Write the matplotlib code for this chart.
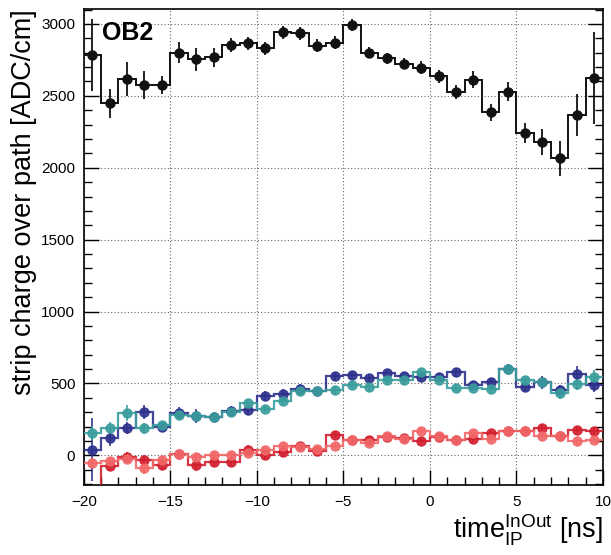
import numpy as np
import matplotlib
matplotlib.use("Agg")
import matplotlib.pyplot as plt
from matplotlib.ticker import MultipleLocator

plt.rcParams['font.family'] = ['Liberation Sans', 'DejaVu Sans']
plt.rcParams['mathtext.fontset'] = 'custom'
plt.rcParams['mathtext.rm'] = 'Liberation Sans'

edges = np.arange(-20, 11, 1)
centers = edges[:-1] + 0.5

black = [2784, 2448, 2617, 2575, 2575, 2800, 2754, 2768, 2854, 2866,
         2831, 2942, 2935, 2849, 2870, 2993, 2800, 2761, 2724, 2696,
         2636, 2525, 2612, 2385, 2529, 2239, 2177, 2066, 2365, 2622]
black_err = [252, 100, 120, 95, 60, 72, 78, 68, 50, 45,
             45, 45, 45, 45, 45, 40, 40, 40, 40, 45,
             45, 50, 60, 58, 67, 70, 90, 123, 145, 320]

blue = [38, 123, 190, 300, 200, 295, 272, 267, 306, 313,
        415, 429, 464, 445, 550, 557, 538, 569, 550, 543,
        545, 578, 492, 508, 603, 476, 508, 452, 566, 492]
blue_err = [220, 60, 40, 50, 30, 40, 50, 35, 35, 30,
            30, 30, 30, 30, 30, 25, 25, 25, 25, 25,
            25, 30, 25, 30, 30, 30, 45, 40, 55, 55]

teal = [156, 188, 295, 188, 212, 282, 272, 267, 302, 365,
        325, 378, 445, 445, 452, 492, 473, 527, 522, 580,
        527, 469, 469, 464, 603, 522, 508, 434, 497, 545]
teal_err = [50, 45, 55, 40, 30, 35, 35, 35, 30, 30,
            25, 25, 25, 25, 25, 25, 25, 25, 25, 25,
            25, 25, 25, 40, 30, 30, 30, 40, 40, 50]

red = [-400, -76, -12, -30, -68, 8, -68, -44, -44, 40,
       0, 26, 63, 28, 144, 109, 109, 128, 118, 97,
       128, 109, 116, 156, 167, 167, 190, 137, 179, 167]
red_err = [0, 35, 35, 35, 35, 30, 40, 30, 30, 30,
           25, 25, 25, 25, 25, 20, 20, 20, 20, 20,
           20, 20, 20, 20, 20, 25, 25, 25, 25, 25]

salmon = [-51, -42, -26, -88, -30, 8, -9, 3, 5, 17,
          40, 63, 56, 45, 68, 104, 86, 132, 114, 172,
          132, 109, 156, 114, 167, 167, 132, 137, 97, 109]
salmon_err = [30, 30, 30, 40, 30, 25, 25, 25, 25, 25,
              20, 20, 20, 20, 20, 20, 20, 20, 20, 20,
              20, 20, 20, 20, 20, 20, 20, 20, 20, 20]

fig = plt.figure(figsize=(6.11, 5.55), dpi=100)
ax = fig.add_axes([0.137, 0.126, 0.850, 0.858])

series = [
    (blue, blue_err, '#2e318c', 0.9),
    (teal, teal_err, '#3a9e9c', 0.9),
    (red, red_err, '#d21f2f', 0.9),
    (salmon, salmon_err, '#f26868', 0.9),
    (black, black_err, '#111111', 1.0),
]
for vals, errs, col, a in series:
    lw = 1.4 if col == '#111111' else 1.6
    ax.stairs(vals, edges, baseline=None, color=col, lw=lw, alpha=a, zorder=3)
    ax.errorbar(centers, vals, yerr=errs, fmt='o', color=col, ms=6.5,
                elinewidth=1.3, capsize=0, alpha=a, zorder=4)

ax.set_xlim(-20, 10)
ax.set_ylim(-207, 3105)
ax.xaxis.set_major_locator(MultipleLocator(5))
ax.xaxis.set_minor_locator(MultipleLocator(1))
ax.yaxis.set_major_locator(MultipleLocator(500))
ax.yaxis.set_minor_locator(MultipleLocator(100))
ax.tick_params(which='both', direction='in', right=True, top=False,
               labelsize=11, width=1.0)
ax.tick_params(which='major', length=11)
ax.tick_params(which='minor', length=6)
ax.tick_params(axis='x', pad=7)
ax.tick_params(axis='y', pad=6)
ax.grid(True, which='major', linestyle=(0, (1, 2)), color='#666666', lw=0.8)
for s in ax.spines.values():
    s.set_linewidth(1.2)

ax.set_ylabel('strip charge over path [ADC/cm]', fontsize=19.5, loc='top')
ax.yaxis.set_label_coords(-0.090, 0.998)
fig.text(0.987, 0.012, r'time$_{\mathregular{IP}}^{\mathregular{InOut}}$ [ns]',
         fontsize=19.5, ha='right', va='bottom')
ax.text(0.035, 0.975, 'OB2', transform=ax.transAxes, fontsize=18,
        fontweight='bold', ha='left', va='top', zorder=6)

fig.savefig('out.png', dpi=100)
